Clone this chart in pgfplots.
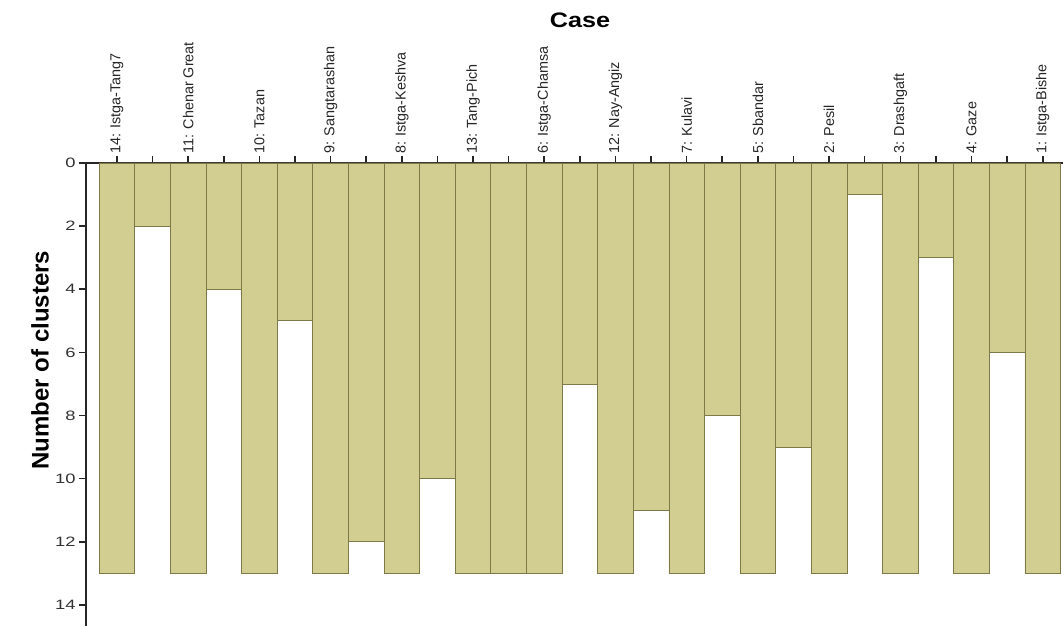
\documentclass[border=0pt]{standalone}
\usepackage{pgfplots}
\pgfplotsset{compat=1.18}
\usepackage{fontspec}
\setmainfont{Liberation Sans}
\newfontfamily\widesans[FakeStretch=1.35]{Liberation Sans}
\newfontfamily\titlesans[FakeStretch=1.2]{Liberation Sans}
\definecolor{icefill}{RGB}{210,205,145}
\definecolor{iceedge}{RGB}{125,122,72}
\begin{document}
\begin{tikzpicture}
\begin{axis}[
    scale only axis,
    width=488.5pt, height=231.5pt,
    xmin=0.13, xmax=27.57,
    ymin=0, ymax=14.67,
    y dir=reverse,
    axis x line*=top,
    axis y line*=left,
    axis line style={line width=0.9pt, black!85},
    every tick/.style={line width=0.8pt, black!85},
    tick align=outside,
    major tick length=3.5pt,
    xtick={1,...,27},
    xticklabels={14: Istga-Tang7,,11: Chenar Great,,10: Tazan,,9: Sangtarashan,,8: Istga-Keshva,,13: Tang-Pich,,6: Istga-Chamsa,,12: Nay-Angiz,,7: Kulavi,,5: Sbandar,,2: Pesil,,3: Drashgaft,,4: Gaze,,1: Istga-Bishe},
    xticklabel style={rotate=90, anchor=west, inner sep=1pt, text=black!85, font=\fontsize{7.2}{8}\selectfont},
    ytick={0,2,...,14},
    yticklabel style={font=\widesans\fontsize{6.8}{8}\selectfont, text=black!80, inner sep=1.5pt},
    /pgf/number format/assume math mode=true,
    clip=false,
]
% case columns (odd) reach 13; gap columns end where the pair is joined
\addplot[ybar, bar width=1, fill=icefill, draw=iceedge, line width=0.35pt] coordinates {
    (1,13) (2,2) (3,13) (4,4) (5,13) (6,5) (7,13) (8,12) (9,13)
    (10,10) (11,13) (12,13) (13,13) (14,7) (15,13) (16,11) (17,13)
    (18,8) (19,13) (20,9) (21,13) (22,1) (23,13) (24,3) (25,13)
    (26,6) (27,13)
};
\end{axis}
\node[font=\bfseries\fontsize{12}{14}\selectfont, rotate=90] at (-23pt,133pt) {Number of clusters};
\node[font=\titlesans\bfseries\fontsize{10.5}{12}\selectfont] at (247pt,303pt) {Case};
\pgfresetboundingbox
\path[use as bounding box] (-43pt,0pt) rectangle (488.5pt,313pt);
\end{tikzpicture}
\end{document}
